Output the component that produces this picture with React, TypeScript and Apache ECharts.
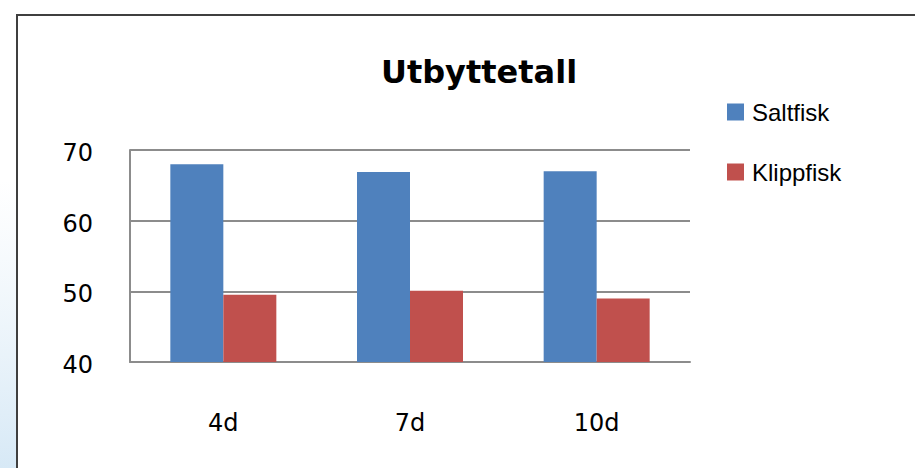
import React, { useEffect, useRef } from "react";
import * as echarts from "echarts";

const categories = ["4d", "7d", "10d"];
const saltfisk = [68.0, 66.9, 67.0];
const klippfisk = [49.5, 50.1, 49.0];
const seriesNames = ["Saltfisk", "Klippfisk"];
const chartTitle = "Utbyttetall";

export default function App() {
  const ref = useRef<HTMLDivElement>(null);
  useEffect(() => {
    const chart = echarts.init(ref.current!, undefined, { renderer: "svg" });
    chart.setOption({
      animation: false,
      backgroundColor: "#ffffff",
      title: {
        text: chartTitle,
        left: 474,
        textAlign: "center",
        top: 51,
        textStyle: {
          fontFamily: "DejaVu Sans",
          fontWeight: "bold",
          fontSize: 32,
          color: "#000000",
        },
      },
      legend: {
        orient: "vertical",
        left: 722,
        top: 95,
        icon: "rect",
        itemWidth: 17,
        itemHeight: 17,
        itemGap: 36,
        data: seriesNames,
        textStyle: {
          fontFamily: "Liberation Sans",
          fontSize: 24,
          color: "#000000",
          padding: [0, 0, 0, 3],
        },
      },
      graphic: [
        {
          type: "rect",
          shape: { x: 0, y: 180, width: 16, height: 288 },
          style: {
            fill: new echarts.graphic.LinearGradient(0, 0, 0, 1, [
              { offset: 0, color: "rgba(225,238,248,0)" },
              { offset: 1, color: "rgba(215,233,246,1)" },
            ]),
          },
          silent: true,
        },
        {
          type: "rect",
          shape: { x: 17, y: 15, width: 1000, height: 1000 },
          style: { fill: "none", stroke: "#3f3f3f", lineWidth: 2 },
          silent: true,
          z: 10,
        },
      ],
      grid: { left: 130, right: 225, top: 150, bottom: 106 },
      xAxis: {
        type: "category",
        data: categories,
        axisLine: { show: true, lineStyle: { color: "#8c8c8c", width: 2 } },
        axisTick: { show: false },
        axisLabel: {
          margin: 49,
          fontFamily: "DejaVu Sans",
          fontSize: 24,
          color: "#000000",
        },
      },
      yAxis: {
        type: "value",
        min: 40,
        max: 70,
        interval: 10,
        axisLine: { show: true, lineStyle: { color: "#8c8c8c", width: 2 } },
        axisTick: { show: false },
        splitLine: { lineStyle: { color: "#8c8c8c", width: 2 } },
        axisLabel: {
          margin: 37,
          formatter: "{v|{value}}",
          rich: {
            v: {
              fontFamily: "DejaVu Sans",
              fontSize: 24,
              color: "#000000",
              padding: [6, 0, 0, 0],
            },
          },
        },
      },
      series: [
        {
          name: seriesNames[0],
          type: "bar",
          data: saltfisk,
          barWidth: 53,
          barGap: "0%",
          itemStyle: { color: "#4f81bd" },
        },
        {
          name: seriesNames[1],
          type: "bar",
          data: klippfisk,
          barWidth: 53,
          barGap: "0%",
          itemStyle: { color: "#c0504d" },
        },
      ],
    });
    return () => chart.dispose();
  }, []);
  return (
    <div
      ref={ref}
      style={{ position: "fixed", left: 0, top: 0, width: 915, height: 468 }}
    />
  );
}
